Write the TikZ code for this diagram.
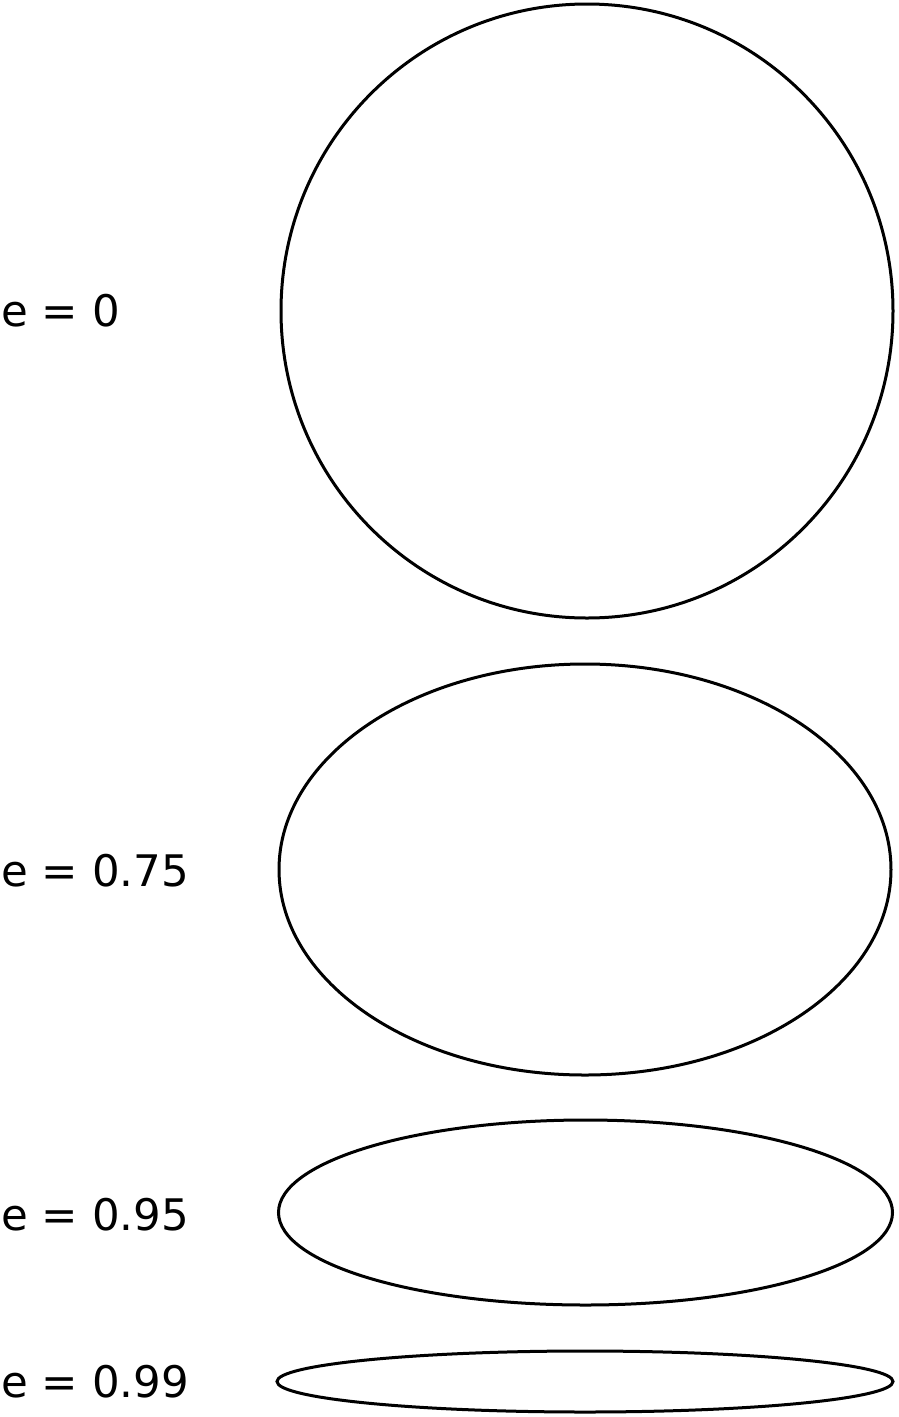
\documentclass[tikz,border=0pt]{standalone}
\usepackage{fontspec}
\setmainfont{DejaVu Sans}
\begin{document}
\begin{tikzpicture}[x=1pt,y=-1pt,
  orbit/.style={draw=black,line width=3pt},
  lbl/.style={anchor=base west,inner sep=0pt,font=\fontsize{43.5}{50}\selectfont}]
\useasboundingbox[fill=white] (0,0) rectangle (898,1417);
\node[lbl] (l1) at (1,326) {e = 0};
\node[lbl] (l2) at (1,886) {e = 0.75};
\node[lbl] (l3) at (1,1230) {e = 0.95};
\node[lbl] (l4) at (1,1397) {e = 0.99};
\draw[orbit] (587,311) ellipse [x radius=306, y radius=307];
\draw[orbit] (585,869.5) ellipse [x radius=306, y radius=205.5];
\draw[orbit] (585.5,1212.5) ellipse [x radius=307, y radius=92.5];
\draw[orbit] (585,1381.5) ellipse [x radius=308, y radius=30.5];
\end{tikzpicture}
\end{document}
